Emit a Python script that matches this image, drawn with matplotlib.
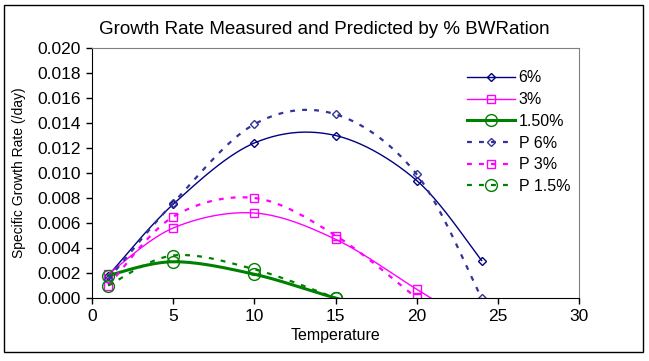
import numpy as np
import matplotlib
matplotlib.use("Agg")
import matplotlib.pyplot as plt
from matplotlib.patches import Rectangle

plt.rcParams['font.family'] = ['Liberation Sans', 'DejaVu Sans']

temperature = [1, 5, 10, 15, 20, 24]
g6 = [0.0018, 0.0075, 0.0124, 0.0130, 0.0094, 0.0030]
g3 = [0.0019, 0.0056, 0.0068, 0.0047, 0.0007, -0.0025]
g15 = [0.0018, 0.0029, 0.0019, 0.0000, -0.0017, -0.0040]
p6 = [0.0015, 0.0076, 0.0139, 0.0147, 0.0099, 0.0000]
p3 = [0.0010, 0.0065, 0.0080, 0.0050, 0.0000]
p15 = [0.0010, 0.0034, 0.0023, 0.0000]

labels = ['6%', '3%', '1.50%', 'P 6%', 'P 3%', 'P 1.5%']


def smooth(x, y, n=40):
    # Excel style smoothed line: cubic bezier through the points
    pts = np.column_stack([x, y]).astype(float)
    out = [pts[:1]]
    idx = [0]
    for i in range(len(pts) - 1):
        p0 = pts[i - 1] if i > 0 else pts[i]
        p1 = pts[i]
        p2 = pts[i + 1]
        p3 = pts[i + 2] if i + 2 < len(pts) else pts[i + 1]
        c1 = p1 + (p2 - p0) / 6
        c2 = p2 - (p3 - p1) / 6
        t = np.linspace(0, 1, n)[1:, None]
        seg = ((1 - t) ** 3) * p1 + 3 * ((1 - t) ** 2) * t * c1 + 3 * (1 - t) * t ** 2 * c2 + t ** 3 * p2
        out.append(seg)
        idx.append(idx[-1] + n - 1)
    out = np.vstack(out)
    return out[:, 0], out[:, 1], idx


fig = plt.figure(figsize=(6.49, 3.61), dpi=100)
ax = fig.add_axes([92 / 649, 1 - 298 / 361, (579 - 92) / 649, (298 - 48) / 361])

series = [
    (g6, '#000080', '-', 1.0, 'D', 4.5, labels[0]),
    (g3, '#FF00FF', '-', 1.0, 's', 5.5, labels[1]),
    (g15, '#008000', '-', 2.2, 'o', 8.5, labels[2]),
    (p6, '#333399', (0, (2.2, 3.2)), 1.6, 'D', 4.5, labels[3]),
    (p3, '#FF00FF', (0, (2.2, 3.2)), 1.6, 's', 5.5, labels[4]),
    (p15, '#008000', (0, (2.2, 3.2)), 1.6, 'o', 8.5, labels[5]),
]

for vals, col, ls, lw, mk, ms, lab in series:
    xs, ys, idx = smooth(temperature[:len(vals)], vals)
    ax.plot(xs, ys, color=col, linestyle=ls, linewidth=lw, marker=mk, markersize=ms,
            markevery=idx, markerfacecolor='none', markeredgecolor=col,
            markeredgewidth=1.0, label=lab)

ax.set_xlim(0, 30)
ax.set_ylim(0, 0.020)
ax.set_xticks(np.arange(0, 31, 5))
ax.set_yticks(np.arange(0, 0.0201, 0.002))
ax.set_yticklabels(['%.3f' % v for v in np.arange(0, 0.0201, 0.002)])
ax.tick_params(direction='out', length=4, width=1, labelsize=12.5, pad=4)

for s in ['top', 'right']:
    ax.spines[s].set_color('#808080')
for s in ['left', 'bottom']:
    ax.spines[s].set_color('black')

ax.set_xlabel('Temperature', fontsize=11.5, labelpad=3)
ax.set_ylabel('Specific Growth Rate (/day)', fontsize=10, labelpad=8)
fig.text(0.5, 1 - 30 / 361, 'Growth Rate Measured and Predicted by % BWRation',
         ha='center', va='center', fontsize=13.5)

ax.legend(loc='upper left', bbox_to_anchor=(0.748, 0.955), frameon=False,
          fontsize=11.5, handlelength=3.0, labelspacing=0.42, handletextpad=0.2,
          borderpad=0.2)

fig.patches.append(Rectangle((4 / 649, 1 - 352 / 361), 639 / 649, 347 / 361,
                             transform=fig.transFigure, fill=False,
                             edgecolor='black', linewidth=1))

fig.savefig('out.png', dpi=100)
